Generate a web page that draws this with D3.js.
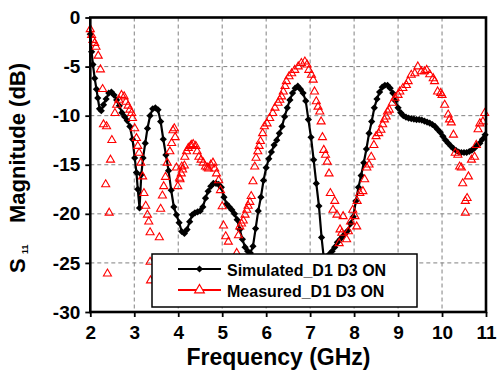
<!DOCTYPE html>
<html>
<head>
<meta charset="utf-8">
<script src="https://cdn.jsdelivr.net/npm/d3@7"></script>
<style>
  html, body { margin: 0; padding: 0; background: #fff; }
  svg { display: block; }
  text { font-family: "Liberation Sans", Arial, sans-serif; font-weight: bold; }
</style>
</head>
<body>
<svg id="chart" width="497" height="372"></svg>
<script>
// ---- Data ----
const xTicks = [2, 3, 4, 5, 6, 7, 8, 9, 10, 11];
const yTicks = [0, -5, -10, -15, -20, -25, -30];

const simFreq = [
  2.00, 2.03, 2.06, 2.10, 2.14, 2.17, 2.21, 2.25, 2.30, 2.36, 2.42, 2.48, 2.54, 2.60, 2.66, 2.72, 2.78, 2.84, 2.90, 2.96,
  3.01, 3.05, 3.08, 3.12, 3.16, 3.20, 3.25, 3.30, 3.36, 3.42, 3.48, 3.54, 3.60, 3.66, 3.72, 3.78, 3.84, 3.90, 3.96,
  4.02, 4.08, 4.14, 4.20, 4.26, 4.32, 4.38, 4.44, 4.50, 4.56, 4.62, 4.68, 4.74, 4.80, 4.86, 4.92, 4.98,
  5.04, 5.10, 5.16, 5.22, 5.28, 5.34, 5.40, 5.46, 5.52, 5.58, 5.64, 5.70, 5.76, 5.82, 5.88, 5.94,
  6.00, 6.06, 6.12, 6.18, 6.24, 6.30, 6.36, 6.42, 6.48, 6.54, 6.60, 6.66, 6.72, 6.78, 6.84, 6.90, 6.96,
  7.02, 7.08, 7.14, 7.20, 7.26, 7.32, 7.38, 7.44, 7.50, 7.56, 7.62, 7.68, 7.74, 7.80, 7.86, 7.92, 7.98,
  8.04, 8.10, 8.16, 8.22, 8.28, 8.34, 8.40, 8.46, 8.52, 8.58, 8.64, 8.70, 8.76, 8.82, 8.88, 8.94,
  9.00, 9.06, 9.12, 9.18, 9.24, 9.30, 9.36, 9.42, 9.48, 9.54, 9.60, 9.66, 9.72, 9.78, 9.84, 9.90, 9.96,
  10.02, 10.08, 10.14, 10.20, 10.26, 10.32, 10.38, 10.44, 10.50, 10.56, 10.62, 10.68, 10.74, 10.80, 10.86, 10.92, 10.98
];
const simS11 = [
  -1.7, -3.5, -4.8, -6.2, -7.3, -8.2, -9.3, -9.5, -8.9, -8.3, -7.7, -7.6, -7.9, -8.4, -9.0, -9.7, -10.1, -10.5, -11.1, -12.4,
  -14.3, -15.8, -17.5, -19.4, -16.0, -14.3, -12.8, -11.3, -10.0, -9.3, -9.2, -9.4, -10.6, -12.4, -14.0, -15.6, -17.6, -19.3, -20.1,
  -20.9, -21.8, -22.0, -21.6, -20.8, -20.1, -19.9, -19.8, -19.7, -19.3, -18.4, -17.7, -17.2, -16.9, -16.9, -17.0, -17.3,
  -18.3, -19.0, -19.3, -19.6, -20.0, -20.6, -21.6, -22.6, -23.4, -23.8, -24.0, -23.3, -21.5, -19.7, -18.3, -16.6,
  -15.3, -14.4, -13.7, -13.0, -12.5, -11.8, -11.1, -10.1, -9.2, -8.4, -7.7, -7.2, -7.0, -7.3, -7.7, -8.5, -10.4,
  -12.2, -14.5, -16.9, -19.2, -22.4, -24.9, -25.3, -24.1, -23.8, -23.4, -22.9, -22.6, -22.3, -22.0, -21.7, -21.0, -20.3,
  -18.7, -17.3, -16.1, -14.8, -13.4, -11.8, -10.6, -9.2, -8.3, -7.6, -7.1, -6.9, -6.9, -7.2, -7.7, -8.5,
  -9.2, -9.7, -10.0, -10.15, -10.25, -10.3, -10.35, -10.4, -10.4, -10.45, -10.55, -10.65, -10.75, -10.9, -11.1, -11.4, -11.7,
  -12.1, -12.5, -12.8, -13.1, -13.35, -13.55, -13.7, -13.75, -13.75, -13.75, -13.65, -13.5, -13.3, -13.0, -12.8, -12.4, -11.95
];

const measFreq = [
  2.00, 2.03, 2.06, 2.10, 2.13, 2.18, 2.23, 2.28, 2.30, 2.35, 2.37, 2.39, 2.43, 2.46, 2.49,
  2.56, 2.60, 2.65, 2.71, 2.77, 2.81, 2.86, 2.90, 2.94, 2.96, 3.01, 3.05, 3.08, 3.11, 3.15, 3.19,
  3.22, 3.26, 3.30, 3.33, 3.36, 3.36, 3.37, 3.57, 3.60, 3.64, 3.67, 3.71, 3.75, 3.81, 3.85, 3.88,
  3.91, 3.93, 3.96, 3.99, 4.03, 4.04, 4.07, 4.08, 4.10, 4.14, 4.15, 4.19, 4.23, 4.28, 4.30, 4.34,
  4.40, 4.43, 4.47, 4.52, 4.57, 4.62, 4.66, 4.69, 4.74, 4.79, 4.83, 4.87, 4.92, 4.96, 5.00, 5.03,
  5.08, 5.14, 5.33, 5.37, 5.40, 5.44, 5.48, 5.52, 5.56, 5.59, 5.63, 5.66, 5.70, 5.74, 5.77, 5.81,
  5.84, 5.87, 5.92, 5.96, 6.02, 6.08, 6.15, 6.20, 6.27, 6.31, 6.35, 6.39, 6.43, 6.46, 6.52, 6.58,
  6.65, 6.73, 6.80, 6.88, 6.93, 6.97, 7.03, 7.07, 7.10, 7.14, 7.18, 7.22, 7.25, 7.28, 7.31, 7.35,
  7.39, 7.43, 7.46, 7.52, 7.56, 7.61, 7.66, 7.68, 7.72, 7.75, 7.83, 7.87, 7.92, 7.97, 8.02, 8.06,
  8.07, 8.13, 8.20, 8.24, 8.29, 8.34, 8.39, 8.45, 8.50, 8.56, 8.61, 8.65, 8.69, 8.73, 8.76, 8.80,
  8.87, 8.93, 9.00, 9.04, 9.11, 9.19, 9.23, 9.30, 9.38, 9.45, 9.53, 9.60, 9.65, 9.72, 9.80, 9.83,
  9.90, 9.97, 10.00, 10.06, 10.14, 10.17, 10.21, 10.26, 10.30, 10.36, 10.40, 10.44, 10.47, 10.53,
  10.53, 10.57, 10.60, 10.67, 10.74, 10.78, 10.82, 10.86, 10.93, 10.97
];
const measS11 = [
  -1.2, -1.8, -2.3, -2.6, -3.0, -3.9, -5.3, -7.3, -10.9, -17.0, -11.1, -26.1, -19.9, -14.5, -12.5,
  -9.75, -8.9, -8.4, -7.9, -8.05, -8.6, -9.0, -9.4, -9.75, -10.25, -11.3, -12.3, -13.1, -13.8, -14.8, -16.2,
  -17.9, -19.2, -20.1, -20.8, -21.9, -24.9, -26.8, -22.4, -19.5, -18.15, -17.2, -16.25, -14.8, -13.65, -12.8, -11.5,
  -11.3, -12.2, -15.3, -17.2, -16.35, -16.5, -15.9, -15.2, -15.5, -15.1, -14.2, -13.65, -13.3, -13.1, -13.0, -12.9,
  -13.1, -13.65, -14.2, -14.5, -14.8, -15.2, -15.3, -15.4, -15.0, -14.8, -15.4, -15.9, -16.6, -17.6, -19.25, -21.2,
  -22.3, -22.85, -24.0, -22.2, -21.3, -21.0, -20.7, -20.1, -19.6, -19.2, -18.8, -18.2, -16.7, -15.2, -14.3, -13.65,
  -13.1, -12.6, -11.8, -11.1, -10.8, -10.25, -9.75, -9.2, -8.7, -8.4, -8.05, -7.55, -7.0, -6.5, -6.0, -5.7,
  -5.35, -5.0, -4.65, -4.5, -4.8, -5.35, -5.85, -6.35, -7.55, -8.55, -9.1, -9.6, -10.6, -12.2, -13.5, -14.0,
  -14.7, -15.9, -17.9, -19.6, -18.7, -20.1, -23.0, -21.6, -21.95, -20.25, -22.6, -21.8, -20.8, -19.6, -20.25, -21.3,
  -18.7, -17.9, -17.7, -16.5, -15.3, -15.0, -14.2, -13.0, -12.1, -11.8, -11.45, -10.9, -10.4, -10.1, -9.6, -9.4,
  -8.7, -8.2, -7.9, -7.55, -7.2, -6.9, -6.5, -5.85, -5.7, -5.0, -5.5, -5.5, -5.35, -5.8, -6.2, -6.5,
  -7.55, -7.7, -7.9, -8.9, -9.9, -10.4, -10.7, -11.95, -13.8, -14.0, -15.2, -15.3, -16.9, -18.7,
  -19.9, -18.4, -16.2, -14.5, -14.2, -13.0, -11.4, -10.8, -10.6, -9.75
];

const legendLabels = ["Simulated_D1 D3 ON", "Measured_D1 D3 ON"];

// ---- Layout ----
const svg = d3.select("#chart");
const L = 90.3, R = 486, T = 17.5, B = 312;
const x = d3.scaleLinear().domain([2, 11]).range([L, R]);
const y = d3.scaleLinear().domain([-30, 0]).range([B, T]);

svg.append("rect").attr("width", 497).attr("height", 372).attr("fill", "#fff");

// grid
const grid = svg.append("g").attr("stroke", "#808080").attr("stroke-width", 1).attr("stroke-dasharray", "4,3");
grid.selectAll("line.v").data(xTicks.filter(d => d > 2 && d < 11)).join("line")
  .attr("x1", d => x(d)).attr("x2", d => x(d)).attr("y1", T).attr("y2", B);
grid.selectAll("line.h").data(yTicks.filter(d => d < 0 && d > -30)).join("line")
  .attr("x1", L).attr("x2", R).attr("y1", d => y(d)).attr("y2", d => y(d));

// axes
const xAxis = svg.append("g").attr("transform", `translate(0,${B})`)
  .call(d3.axisBottom(x).tickValues(xTicks).tickFormat(d3.format("d")).tickSize(5).tickSizeOuter(0).tickPadding(9));
const yAxis = svg.append("g").attr("transform", `translate(${L},0)`)
  .call(d3.axisLeft(y).tickValues(yTicks).tickFormat(d => d === 0 ? "0" : "-" + Math.abs(d)).tickSize(5).tickSizeOuter(0).tickPadding(5));
[xAxis, yAxis].forEach(g => {
  g.select(".domain").remove();
  g.selectAll(".tick line").attr("stroke", "#000").attr("stroke-width", 1.8);
  g.selectAll(".tick text").attr("fill", "#000")
    .style("font-family", '"Liberation Sans", Arial, sans-serif')
    .style("font-weight", "bold").style("font-size", "19px");
});

// simulated line + markers
const simData = simFreq.map((f, i) => [f, simS11[i]]);
const measData = measFreq.map((f, i) => [f, measS11[i]]);

svg.append("path").datum(simData)
  .attr("fill", "none").attr("stroke", "#000").attr("stroke-width", 2.2)
  .attr("d", d3.line().x(d => x(d[0])).y(d => y(d[1])));

const diamond = "M0,-3.6L3.6,0L0,3.6L-3.6,0Z";
svg.append("g").selectAll("path").data(simData).join("path")
  .attr("d", diamond).attr("fill", "#000")
  .attr("transform", d => `translate(${x(d[0])},${y(d[1])})`);

// measured markers
const tri = d3.symbol().type(d3.symbolTriangle).size(28)();
svg.append("g").selectAll("path").data(measData).join("path")
  .attr("d", tri).attr("fill", "#fff").attr("fill-opacity", 0).attr("stroke", "#ff0000").attr("stroke-width", 1.1)
  .attr("transform", d => `translate(${x(d[0])},${y(d[1])})`);

// frame
svg.append("rect").attr("x", L).attr("y", T).attr("width", R - L).attr("height", B - T)
  .attr("fill", "none").attr("stroke", "#000").attr("stroke-width", 2.6);

// legend
const lg = svg.append("g");
lg.append("rect").attr("x", 152).attr("y", 254).attr("width", 265).attr("height", 53)
  .attr("fill", "#fff").attr("stroke", "#000").attr("stroke-width", 1.5);
const rows = [269, 290];
lg.append("line").attr("x1", 178).attr("x2", 221).attr("y1", rows[0]).attr("y2", rows[0]).attr("stroke", "#000").attr("stroke-width", 2.2);
lg.append("path").attr("d", diamond).attr("fill", "#000").attr("transform", `translate(199.5,${rows[0]})`);
lg.append("line").attr("x1", 178).attr("x2", 221).attr("y1", rows[1]).attr("y2", rows[1]).attr("stroke", "#ff0000").attr("stroke-width", 2);
lg.append("path").attr("d", d3.symbol().type(d3.symbolTriangle).size(40)()).attr("fill", "#fff").attr("stroke", "#ff0000").attr("stroke-width", 1.2)
  .attr("transform", `translate(199.5,${rows[1]})`);
lg.selectAll("text").data(legendLabels).join("text")
  .attr("x", 227).attr("y", (d, i) => rows[i] + 6.5)
  .attr("font-size", 16).attr("fill", "#000").text(d => d);

// axis titles
svg.append("text").attr("x", 278.5).attr("y", 365).attr("text-anchor", "middle")
  .attr("font-size", 23).attr("fill", "#000").text("Frequency (GHz)");

const yt = svg.append("text").attr("transform", "translate(25,273) rotate(-90)")
  .attr("font-size", 22).attr("fill", "#000");
yt.append("tspan").attr("x", 0).text("S");
yt.append("tspan").attr("x", 19).attr("dy", 3).attr("font-size", 9).text("11");
yt.append("tspan").attr("x", 50).attr("dy", -3).text("Magnitude (dB)");
</script>
</body>
</html>
